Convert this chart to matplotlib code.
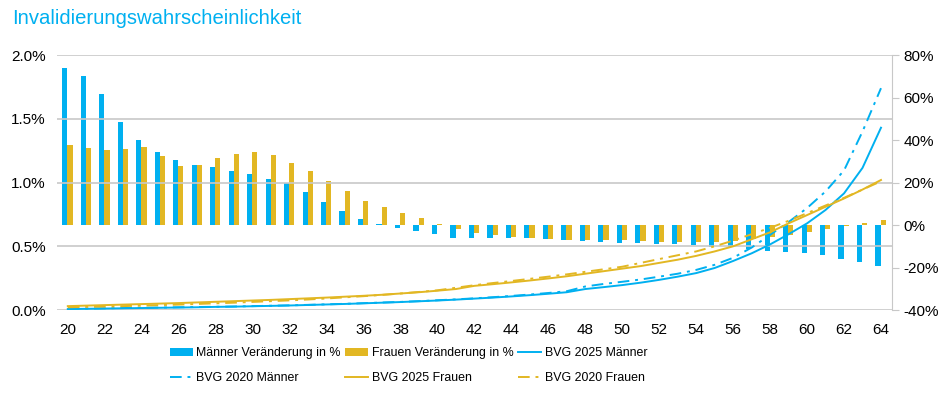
import matplotlib.pyplot as plt
import numpy as np

plt.rcParams['font.family'] = ['Liberation Sans', 'DejaVu Sans']

ages = list(range(20, 65))

# Veraenderung in % (rechte Achse)
maenner_veraenderung = [73.7, 70.3, 61.5, 48.6, 40.2, 34.4, 30.6, 28.2, 27.1, 25.6,
                        23.8, 21.8, 19.8, 15.4, 10.8, 6.5, 2.7, 0.5, -1.3, -2.8,
                        -4.4, -6.0, -6.1, -6.1, -6.1, -6.3, -6.4, -7.1, -7.4, -7.8,
                        -8.3, -8.3, -8.9, -9.1, -9.4, -10.2, -10.5, -11.3, -12.1, -12.5,
                        -13.0, -14.1, -16.0, -17.6, -19.1]
frauen_veraenderung = [37.8, 36.1, 35.3, 35.6, 36.9, 32.5, 27.8, 28.2, 31.4, 33.6,
                       34.4, 33.1, 29.2, 25.3, 20.7, 16.0, 11.4, 8.3, 5.6, 3.1,
                       0.5, -2.0, -3.8, -4.9, -5.8, -6.1, -6.6, -7.1, -6.8, -6.8,
                       -7.1, -7.4, -7.8, -7.8, -7.8, -7.8, -7.5, -6.4, -5.6, -4.7,
                       -3.1, -1.9, -0.3, 0.9, 2.4]

# Invalidierungswahrscheinlichkeit in % (linke Achse)
bvg2025_m = [0.008, 0.010, 0.012, 0.014, 0.016, 0.018, 0.020, 0.022, 0.025, 0.027,
             0.030, 0.033, 0.036, 0.040, 0.044, 0.048, 0.053, 0.058, 0.063, 0.069,
             0.075, 0.082, 0.090, 0.098, 0.107, 0.117, 0.128, 0.140, 0.165, 0.180,
             0.196, 0.215, 0.237, 0.262, 0.290, 0.330, 0.385, 0.445, 0.515, 0.595,
             0.680, 0.785, 0.915, 1.115, 1.430]
bvg2020_m = [0.010, 0.012, 0.014, 0.016, 0.018, 0.020, 0.022, 0.024, 0.026, 0.028,
             0.031, 0.034, 0.037, 0.041, 0.045, 0.049, 0.054, 0.059, 0.064, 0.070,
             0.077, 0.084, 0.092, 0.101, 0.111, 0.122, 0.134, 0.148, 0.185, 0.205,
             0.222, 0.240, 0.262, 0.285, 0.315, 0.355, 0.410, 0.490, 0.590, 0.690,
             0.800, 0.930, 1.095, 1.400, 1.740]
bvg2025_f = [0.031, 0.035, 0.039, 0.043, 0.047, 0.051, 0.055, 0.060, 0.065, 0.070,
             0.075, 0.080, 0.086, 0.092, 0.098, 0.105, 0.112, 0.120, 0.130, 0.140,
             0.152, 0.165, 0.190, 0.203, 0.217, 0.232, 0.248, 0.265, 0.285, 0.305,
             0.325, 0.345, 0.370, 0.395, 0.425, 0.460, 0.500, 0.555, 0.610, 0.680,
             0.745, 0.810, 0.875, 0.945, 1.020]
bvg2020_f = [0.022, 0.025, 0.028, 0.031, 0.035, 0.039, 0.043, 0.048, 0.053, 0.058,
             0.064, 0.070, 0.076, 0.083, 0.091, 0.100, 0.109, 0.119, 0.130, 0.142,
             0.155, 0.175, 0.195, 0.212, 0.228, 0.245, 0.262, 0.280, 0.300, 0.320,
             0.340, 0.370, 0.400, 0.430, 0.460, 0.500, 0.545, 0.595, 0.645, 0.700,
             0.760, 0.820, 0.880, 0.945, 1.010]

blue = '#00B0F0'
gold = '#E2B723'
grid = '#C8C8C8'

fig = plt.figure(figsize=(9.45, 3.93), dpi=100)
ax = fig.add_axes([0.060, 0.211, 0.884, 0.649])
ax2 = ax.twinx()

x = np.array(ages)
w = 0.28
b1 = ax2.bar(x - 0.16, maenner_veraenderung, w, color=blue, label='Männer Veränderung in %')
b2 = ax2.bar(x + 0.12, frauen_veraenderung, w, color=gold, label='Frauen Veränderung in %')

dashdot = (0, (6, 3, 1.5, 3))
l1, = ax.plot(x, bvg2025_m, color=blue, lw=1.4, label='BVG 2025 Männer')
l2, = ax.plot(x, bvg2020_m, color=blue, lw=1.4, ls=dashdot, label='BVG 2020 Männer')
l3, = ax.plot(x, bvg2025_f, color=gold, lw=1.4, label='BVG 2025 Frauen')
l4, = ax.plot(x, bvg2020_f, color=gold, lw=1.4, ls=dashdot, label='BVG 2020 Frauen')

ax.set_zorder(ax2.get_zorder() + 1)
ax.patch.set_visible(False)

ax.set_xlim(19.4, 64.6)
ax.set_ylim(0, 2.0)
ax.set_yticks([0, 0.5, 1.0, 1.5, 2.0])
ax.set_yticklabels(['0.0%', '0.5%', '1.0%', '1.5%', '2.0%'])
ax.set_xticks(range(20, 65, 2))
ax.grid(axis='y', color=grid, lw=1.2)
ax.set_axisbelow(True)
ax2.set_ylim(-40, 80)
ax2.set_yticks(range(-40, 81, 20))
ax2.set_yticklabels([f'{v}%' for v in range(-40, 81, 20)])

for a in (ax, ax2):
    for s in a.spines.values():
        s.set_visible(False)
ax2.spines['right'].set_visible(True)
ax2.spines['right'].set_color(grid)
ax.tick_params(axis='y', length=0, labelsize=11, pad=8)
ax.tick_params(axis='x', length=0, labelsize=11, pad=9)
ax2.tick_params(axis='y', length=5, color=grid, labelsize=11, pad=3)

fig.text(0.013, 0.952, 'Invalidierungswahrscheinlichkeit', color=blue, fontsize=14.6, va='center')

handles = [b1, l2, b2, l3, l1, l4]
labels = [h.get_label() for h in handles]
fig.legend(handles, labels, ncol=3, loc='lower left', bbox_to_anchor=(0.168, -0.006),
           frameon=False, fontsize=8.9,
           handlelength=1.85, handleheight=0.55,
           columnspacing=0.35, handletextpad=0.3, labelspacing=1.05)

fig.savefig('out.png', dpi=100)
